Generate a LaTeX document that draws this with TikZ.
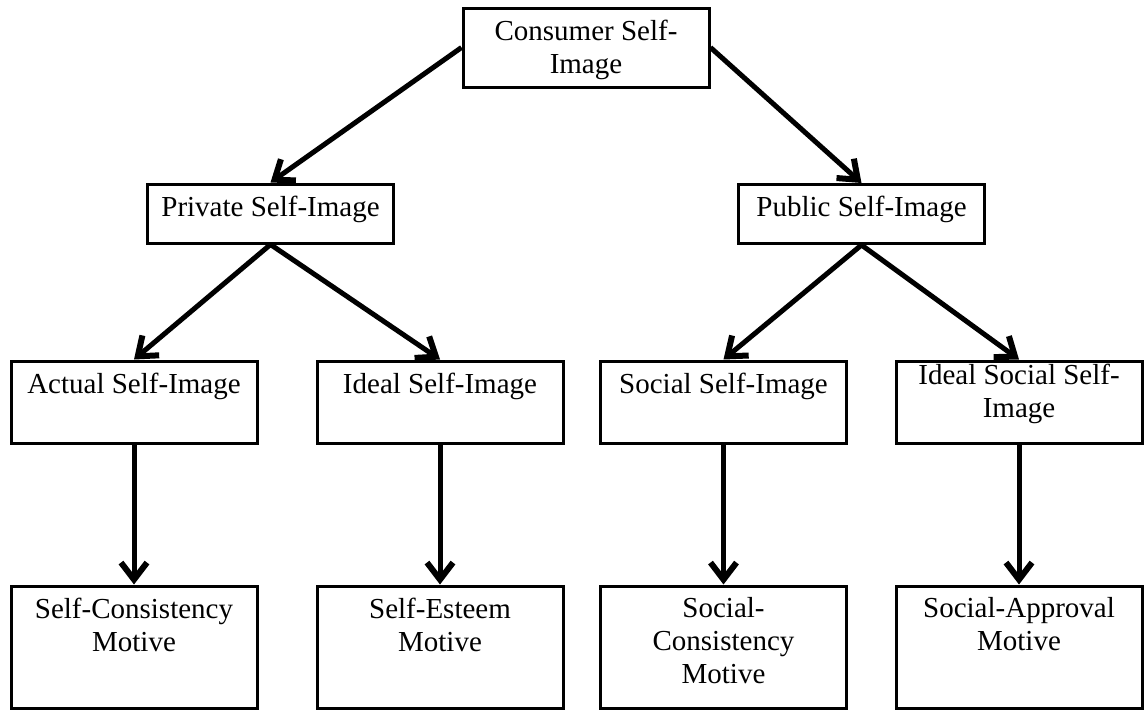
\documentclass[tikz,border=0pt]{standalone}
\usepackage{fontspec}
\setmainfont{Liberation Serif}
\usepackage{tikz}
\usetikzlibrary{arrows.meta}
\usetikzlibrary{positioning}
\tikzset{imgBox/.style={draw, line width=3pt, minimum width=246pt, inner sep=0pt}}
\tikzset{boxText/.style={anchor=north, yshift=-13pt, align=center, inner sep=0pt, font=\fontsize{29pt}{33pt}\selectfont}}
\tikzset{myArrow/.style={-{Straight Barb[length=17pt, width=26pt, line width=6pt]}, line width=5pt}}

\begin{document}
\begin{tikzpicture}[x=1pt, y=-1pt]

\useasboundingbox (0,0) rectangle (1145,712);

\node[imgBox, minimum height=79pt, label={[boxText]north:Consumer Self-\\Image}] (consumer) at (586, 47.5) {};

\node[imgBox, minimum height=59pt, label={[boxText]north:Private Self-Image}] (private) at (270.5, 213.5) {};
\node[imgBox, minimum height=59pt, label={[boxText]north:Public Self-Image}] (public) at (861.5, 214) {};

\node[imgBox, minimum height=82pt, label={[boxText]north:Actual Self-Image}] (actual) at (134, 402) {};
\node[imgBox, minimum height=82pt, label={[boxText]north:Ideal Self-Image}] (ideal) at (440, 402) {};
\node[imgBox, minimum height=82pt, label={[boxText]north:Social Self-Image}] (social) at (723.5, 402) {};
\node[imgBox, minimum height=82pt, label={[boxText, yshift=9pt]north:Ideal Social Self-\\Image}] (idealSocial) at (1019, 402) {};

\node[imgBox, minimum height=122pt, label={[boxText]north:Self-Consistency\\Motive}] (selfCons) at (134, 647) {};
\node[imgBox, minimum height=122pt, label={[boxText]north:Self-Esteem\\Motive}] (selfEsteem) at (440, 647) {};
\node[imgBox, minimum height=122pt, label={[boxText]north:Social-\\Consistency\\Motive}] (socialCons) at (723.5, 647) {};
\node[imgBox, minimum height=122pt, label={[boxText]north:Social-Approval\\Motive}] (socialAppr) at (1019, 647) {};

\draw[myArrow] (consumer.west) to (private.north);
\draw[myArrow] (consumer.east) to (public.north);

\draw[myArrow] (private.south) to (actual.north);
\draw[myArrow] (private.south) to (ideal.north);
\draw[myArrow] (public.south) to (social.north);
\draw[myArrow] (public.south) to (idealSocial.north);

\draw[myArrow] (actual.south) to (selfCons.north);
\draw[myArrow] (ideal.south) to (selfEsteem.north);
\draw[myArrow] (social.south) to (socialCons.north);
\draw[myArrow] (idealSocial.south) to (socialAppr.north);

\end{tikzpicture}
\end{document}
